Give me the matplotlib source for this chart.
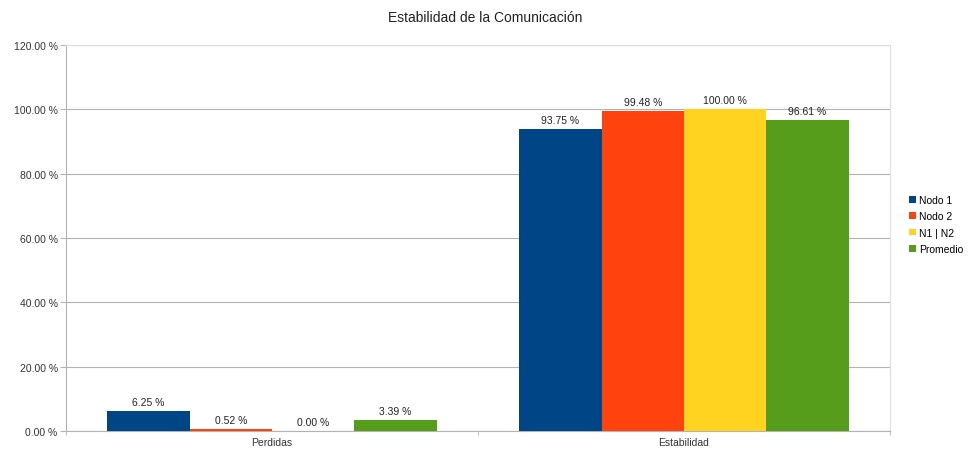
import numpy as np
import matplotlib
matplotlib.use("Agg")
import matplotlib.pyplot as plt

plt.rcParams["font.family"] = ["Liberation Sans", "DejaVu Sans"]

# ================= DATA =================

categories = ["Perdidas", "Estabilidad"]
series     = ["Nodo 1", "Nodo 2", "N1 | N2", "Promedio"]
values = {
    "Nodo 1"  : [6.25, 93.75],
    "Nodo 2"  : [0.52, 99.48],
    "N1 | N2" : [0.00, 100.00],
    "Promedio": [3.39, 96.61],
}
colors = ["#004586", "#ff420e", "#ffd320", "#579d1c"]

yticks = [0, 20, 40, 60, 80, 100, 120]

# ================= CHART =================

fig = plt.figure(figsize=(9.71, 4.52), dpi=100)
ax = fig.add_axes([66 / 971, 20 / 452, 824 / 971, 386 / 452])

x = np.arange(len(categories))
width = 0.2
for i, (name, col) in enumerate(zip(series, colors)):
    offs = (i - 1.5) * width
    vals = values[name]
    ax.bar(x + offs, vals, width, color=col, label=name, zorder=3)
    for xi, v in zip(x + offs, vals):
        ax.text(xi, v + 1.3, f"{v:.2f} %", ha="center", va="bottom",
                fontsize=7.5, color="#222222", zorder=4)

ax.set_xlim(-0.5, 1.5)
ax.set_ylim(0, 120)
ax.set_yticks(yticks)
ax.set_yticklabels([f"{t:.2f} %" for t in yticks], fontsize=7.5, color="#333333")
ax.set_xticks(x)
ax.set_xticklabels(categories, fontsize=7.5, color="#333333")
ax.set_xticks([-0.5, 0.5, 1.5], minor=True)
ax.tick_params(axis="x", which="major", length=0, pad=4)
ax.tick_params(axis="x", which="minor", length=3, color="#b3b3b3")
ax.tick_params(axis="y", length=4, color="#b3b3b3", pad=2)

ax.grid(True, axis="y", color="#b3b3b3", lw=0.8, zorder=0)
for side in ["top", "right"]:
    ax.spines[side].set_color("#dddddd")
for side in ["left", "bottom"]:
    ax.spines[side].set_color("#b3b3b3")

fig.suptitle("Estabilidad de la Comunicación", fontsize=10, y=0.975, color="#222222")

ax.legend(loc="center left", bbox_to_anchor=(1.012, 0.535), frameon=False,
          fontsize=7.5, handlelength=0.6, handleheight=0.6, handletextpad=0.3,
          labelspacing=0.6, borderaxespad=0.5)

plt.savefig("out.png", dpi=100)
plt.close()
